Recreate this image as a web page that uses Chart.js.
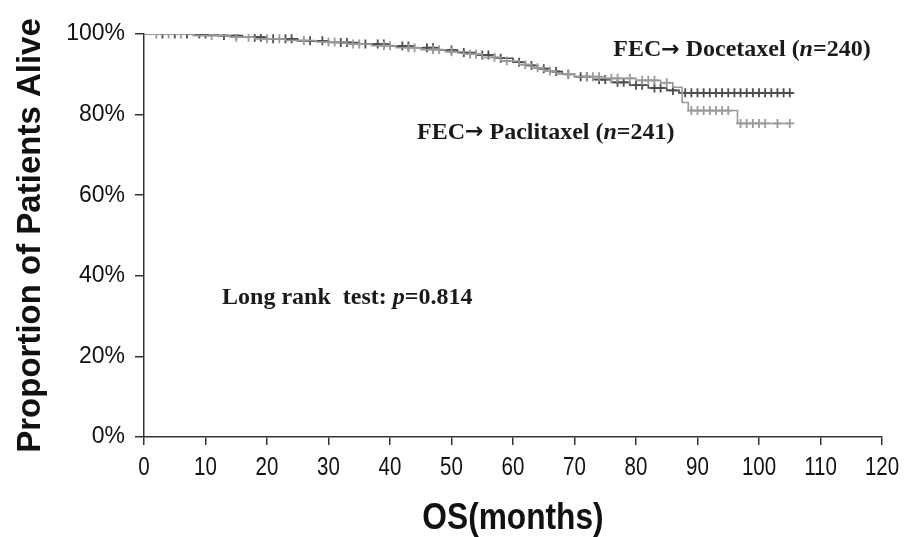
<!DOCTYPE html>
<html>
<head>
<meta charset="utf-8">
<script src="https://cdn.jsdelivr.net/npm/chart.js@4.4.1/dist/chart.umd.min.js"></script>
<style>
  body { margin: 0; background: #fff; }
  canvas { display: block; }
</style>
</head>
<body>
<canvas id="km" width="909" height="537"></canvas>
<script>
// Kaplan-Meier steps (months, % alive)
const docTimes = [0, 12, 16, 20, 25, 30, 35, 40, 44, 48, 51, 54, 57, 60, 62, 64, 66, 68, 70, 73, 76, 79, 82, 85, 87, 105.5];
const docSurv  = [100, 99.6, 99.2, 98.8, 98.3, 97.9, 97.5, 97.0, 96.6, 96.0, 95.4, 94.8, 94.0, 93.0, 92.2, 91.4, 90.7, 90.0, 89.4, 88.7, 88.0, 87.3, 86.6, 86.0, 85.4, 85.4];
const pacTimes = [0, 8, 14, 18, 23, 28, 33, 37, 41, 45, 49, 52, 55, 58, 61, 63, 65, 67, 70, 75, 80, 84, 86, 87.5, 88.5, 96.5, 105];
const pacSurv  = [100, 99.6, 99.2, 98.8, 98.4, 98.0, 97.5, 97.1, 96.6, 96.1, 95.6, 95.0, 94.2, 93.3, 92.4, 91.6, 90.8, 90.1, 89.4, 89.0, 88.5, 87.9, 86.8, 83.0, 81.0, 77.8, 77.8];

// censoring marks (months)
const docCensor = [3, 5, 7, 9, 10, 13, 15, 18, 19, 21, 23, 24, 27, 29, 32, 33, 36, 38, 39, 42, 43, 46, 47, 50, 52, 55, 56, 58, 61, 63, 65, 67, 69, 71, 72, 74, 75, 77, 78, 80, 81, 83, 84, 86, 88, 89, 90, 91, 92, 93, 94, 95, 96, 97, 98, 99, 100, 101, 102, 103, 104, 105];
const pacCensor = [2, 4, 6, 11, 15, 17, 20, 22, 26, 30, 31, 34, 35, 39, 40, 43, 44, 47, 48, 50, 53, 54, 57, 59, 62, 64, 66, 69, 72, 73, 74, 76, 77, 79, 81, 82, 83, 85, 89, 90, 91, 92, 93, 94, 95, 97, 98, 99, 100, 101, 103, 105];

const xTicks = [0, 10, 20, 30, 40, 50, 60, 70, 80, 90, 100, 110, 120];
const yTicks = [0, 20, 40, 60, 80, 100];

const docColor = '#4c4c4c';
const pacColor = '#9a9a9a';
const sansFont = '"Liberation Sans", Arial, sans-serif';
const serifFont = '"Liberation Serif", "Times New Roman", serif';

function steps(times, surv) {
  return times.map((t, i) => ({ x: t, y: surv[i] }));
}

// value of the step curve at time t
function survAt(times, surv, t) {
  let v = surv[0];
  for (let i = 0; i < times.length; i++) {
    if (times[i] <= t) v = surv[i];
  }
  return v;
}

function marks(censor, times, surv) {
  return censor.map(t => ({ x: t, y: survAt(times, surv, t) }));
}

/* text labels in the plot + narrow x axis text */
const labelPlugin = {
  id: 'labels',
  afterDraw(chart) {
    const ctx = chart.ctx;
    const x = chart.scales.x, y = chart.scales.y;
    ctx.save();
    ctx.fillStyle = '#1a1a1a';
    ctx.textBaseline = 'middle';
    function put(parts, mx, my) {
      let px = x.getPixelForValue(mx);
      const py = y.getPixelForValue(my);
      parts.forEach(p => {
        if (p[1] === 2) ctx.font = 'bold 22px "DejaVu Sans", sans-serif';
        else ctx.font = (p[1] ? 'italic bold ' : 'bold ') + '24px ' + serifFont;
        ctx.fillText(p[0], px, py);
        px += ctx.measureText(p[0]).width;
      });
    }
    put([['FEC', 0], ['\u2192', 2], [' Docetaxel (', 0], ['n', 1], ['=240)', 0]], 76.3, 96.0);
    put([['FEC', 0], ['\u2192', 2], [' Paclitaxel (', 0], ['n', 1], ['=241)', 0]], 44.4, 75.6);
    put([['Long rank  test: ', 0], ['p', 1], ['=0.814', 0]], 12.7, 34.5);

    // x tick labels and title, squeezed like Arial Narrow
    ctx.fillStyle = '#111';
    ctx.textAlign = 'center';
    ctx.font = '25px ' + sansFont;
    xTicks.forEach(v => {
      const px = x.getPixelForValue(v);
      ctx.save();
      ctx.translate(px, 468);
      ctx.scale(0.82, 1);
      ctx.fillText(String(v), 0, 0);
      ctx.restore();
    });
    ctx.font = 'bold 36px ' + sansFont;
    ctx.save();
    ctx.translate(513, 519);
    ctx.scale(0.88, 1);
    ctx.fillText('OS(months)', 0, 0);
    ctx.restore();
    ctx.restore();
  }
};

const ctx = document.getElementById('km').getContext('2d');
const kmChart = new Chart(ctx, {
  type: 'line',
  data: {
    datasets: [
      {
        label: 'FEC-Paclitaxel',
        data: steps(pacTimes, pacSurv),
        stepped: true,
        borderColor: pacColor,
        borderWidth: 1.6,
        pointRadius: 0,
        fill: false
      },
      {
        label: 'Paclitaxel censored',
        data: marks(pacCensor, pacTimes, pacSurv),
        showLine: false,
        pointStyle: 'cross',
        pointRadius: 4.5,
        pointBorderWidth: 1.8,
        borderColor: pacColor,
        backgroundColor: pacColor
      },
      {
        label: 'FEC-Docetaxel',
        data: steps(docTimes, docSurv),
        stepped: true,
        borderColor: docColor,
        borderWidth: 1.6,
        pointRadius: 0,
        fill: false
      },
      {
        label: 'Docetaxel censored',
        data: marks(docCensor, docTimes, docSurv),
        showLine: false,
        pointStyle: 'cross',
        pointRadius: 4.5,
        pointBorderWidth: 1.8,
        borderColor: docColor,
        backgroundColor: docColor
      }
    ]
  },
  options: {
    responsive: false,
    animation: false,
    layout: { padding: { left: 0, right: 27, top: 34, bottom: 0 } },
    plugins: {
      legend: { display: false },
      tooltip: { enabled: false }
    },
    scales: {
      x: {
        type: 'linear',
        min: 0,
        max: 120,
        afterBuildTicks: s => { s.ticks = xTicks.map(v => ({ value: v })); },
        afterFit: s => { s.height = 100; },
        grid: { drawOnChartArea: false, color: '#333', tickLength: 8, lineWidth: 1.5 },
        border: { color: '#333', width: 1.5 },
        ticks: { display: false },
        title: { display: false }
      },
      y: {
        min: 0,
        max: 100,
        afterBuildTicks: s => { s.ticks = yTicks.map(v => ({ value: v })); },
        afterFit: s => { s.width = 144; },
        grid: { drawOnChartArea: false, color: '#333', tickLength: 9, lineWidth: 1.5 },
        border: { color: '#333', width: 1.5 },
        ticks: {
          color: '#111',
          padding: 10,
          callback: v => v + '%',
          font: { family: sansFont, size: 23 }
        },
        title: {
          display: true,
          text: 'Proportion of Patients Alive',
          color: '#111',
          padding: { top: 11, bottom: 0 },
          font: { family: sansFont, size: 33, weight: 'bold' }
        }
      }
    }
  },
  plugins: [labelPlugin]
});
</script>
</body>
</html>
